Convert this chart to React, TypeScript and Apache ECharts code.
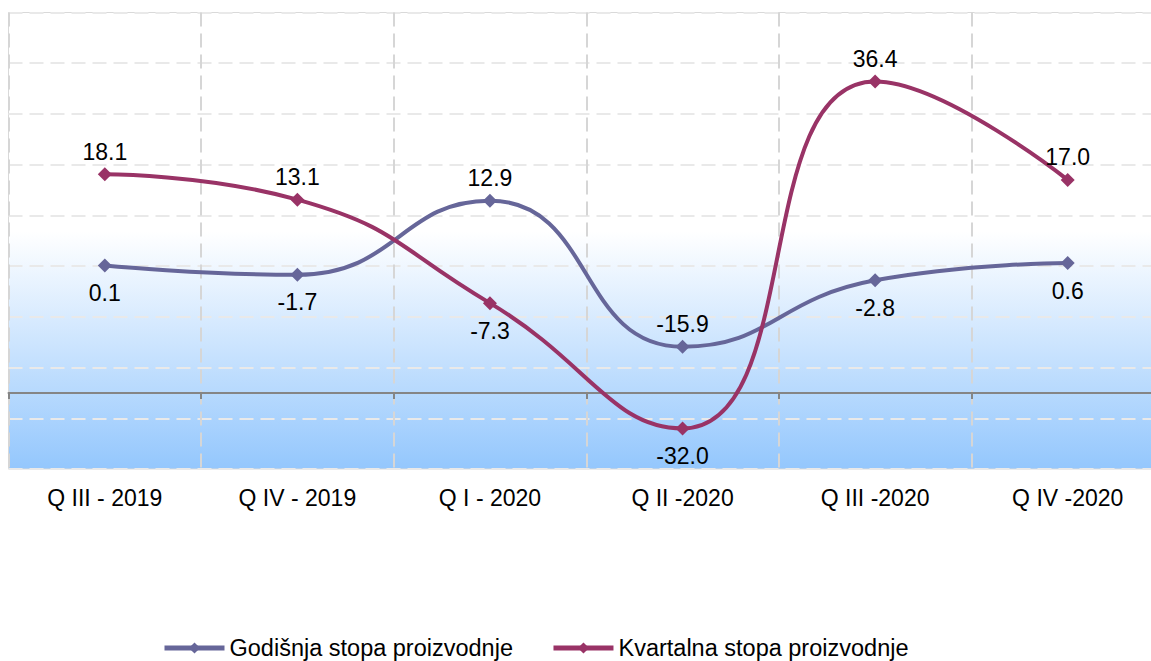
import React, { useEffect, useRef } from "react";
import * as echarts from "echarts";

const categories = ["Q III - 2019", "Q IV - 2019", "Q I - 2020", "Q II -2020", "Q III -2020", "Q IV -2020"];
const godisnja = [0.1, -1.7, 12.9, -15.9, -2.8, 0.6];
const kvartalna = [18.1, 13.1, -7.3, -32.0, 36.4, 17.0];
const godisnjaLabelPos = ["bottom", "bottom", "top", "top", "bottom", "bottom"];
const kvartalnaLabelPos = ["top", "top", "bottom", "bottom", "top", "top"];
const seriesNames = ["Godišnja stopa proizvodnje", "Kvartalna stopa proizvodnje"];

const FONT = "'Liberation Sans', Arial, sans-serif";

export default function App() {
  const ref = useRef<HTMLDivElement>(null);
  useEffect(() => {
    if (!ref.current) return;
    const chart = echarts.init(ref.current, null, { renderer: "svg" });
    const mkData = (vals: number[], pos: string[]) =>
      vals.map((v, i) => ({
        value: v,
        label: { position: pos[i], distance: pos[i] === "top" ? 4 : 9 },
      }));
    const label = {
      show: true,
      fontSize: 23,
      fontFamily: FONT,
      color: "#000",
      formatter: (p: any) => Number(p.value).toFixed(1),
    };
    chart.setOption({
      animation: false,
      textStyle: { fontFamily: FONT },
      grid: {
        left: 8.5,
        width: 1155.5,
        top: 12.5,
        height: 456.5,
        outerBoundsMode: "none",
        containLabel: false,
        show: true,
        borderColor: "#d9d9d9",
        borderWidth: 1,
        backgroundColor: new echarts.graphic.LinearGradient(0, 0, 0, 1, [
          { offset: 0, color: "#ffffff" },
          { offset: 0.48, color: "#ffffff" },
          { offset: 1, color: "#94c7fd" },
        ]),
      },
      legend: {
        left: 162,
        top: 636,
        padding: 0,
        itemWidth: 60,
        itemHeight: 14,
        itemGap: 38,
        lineStyle: { width: 5 },
        textStyle: { fontSize: 23.5, fontFamily: FONT, color: "#000" },
        data: seriesNames,
      },
      xAxis: [
        {
          type: "category",
          data: categories,
          position: "bottom",
          boundaryGap: true,
          axisLine: { show: false },
          axisTick: { show: false },
          axisLabel: { fontSize: 23, fontFamily: FONT, color: "#000", margin: 17 },
          splitLine: {
            show: true,
            lineStyle: { color: "#d6d6d6", width: 2, type: [14, 7] },
          },
        },
        {
          type: "category",
          data: categories,
          position: "bottom",
          boundaryGap: true,
          axisLine: { show: true, onZero: true, onZeroAxisIndex: 1, lineStyle: { color: "#858585", width: 2 } },
          axisTick: { show: true, length: 6, lineStyle: { color: "#858585", width: 2 } },
          axisLabel: { show: false },
          splitLine: { show: false },
        },
      ],
      yAxis: [
        {
          type: "value",
          min: -40,
          max: 50,
          interval: 10,
          axisLabel: { show: false },
          axisLine: { show: false },
          axisTick: { show: false },
          splitLine: {
            show: true,
            lineStyle: { color: "#e9e9e9", width: 2, type: [14, 7] },
          },
        },
        {
          type: "value",
          min: -15,
          max: 75,
          show: false,
          splitLine: { show: false },
        },
      ],
      series: [
        {
          name: seriesNames[0],
          type: "line",
          smooth: 0.5,
          data: mkData(godisnja, godisnjaLabelPos),
          symbol: "diamond",
          symbolSize: 14,
          lineStyle: { color: "#666699", width: 4 },
          itemStyle: { color: "#666699" },
          label,
          z: 3,
        },
        {
          name: seriesNames[1],
          type: "line",
          smooth: 0.5,
          data: mkData(kvartalna, kvartalnaLabelPos),
          symbol: "diamond",
          symbolSize: 14,
          lineStyle: { color: "#993366", width: 4 },
          itemStyle: { color: "#993366" },
          label,
          z: 4,
        },
      ],
    });
    return () => chart.dispose();
  }, []);
  return (
    <div
      ref={ref}
      style={{ position: "absolute", left: 0, top: 0, width: 1151, height: 661 }}
    />
  );
}
